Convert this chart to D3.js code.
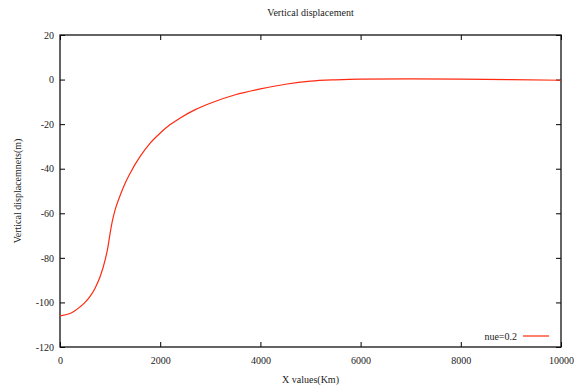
<!DOCTYPE html>
<html>
<head>
<meta charset="utf-8">
<script src="https://cdn.jsdelivr.net/npm/d3@7"></script>
<style>
  body { margin: 0; background: #fff; }
  svg text { font-family: "Liberation Serif", "Times New Roman", "DejaVu Serif", serif; font-size: 10px; }
</style>
</head>
<body>
<svg id="chart"></svg>
<script>
// distance along profile (Km) and vertical displacement (m)
const xValues = [0, 200, 400, 500, 600, 700, 800, 900, 950, 1000, 1050, 1100, 1200, 1300, 1400, 1600, 1800,
                 2000, 2200, 2400, 2700, 3000, 3500, 4000, 4500, 5000, 5500, 6000, 7000, 8000, 9000, 10000];
const dispValues = [-106, -105, -102, -100, -97.3, -93.6, -88.5, -81, -76, -69, -63, -58.5, -52, -46.5, -42, -34.5, -28.5,
                    -24, -20.2, -17.2, -13.5, -10.6, -6.8, -4.2, -2.1, -0.7, -0.1, 0.2, 0.3, 0.2, 0, -0.3];
const xTicks = [0, 2000, 4000, 6000, 8000, 10000];
const yTicks = [-120, -100, -80, -60, -40, -20, 0, 20];
const seriesName = "nue=0.2";

const width = 574, height = 390;
const margin = { top: 35, right: 13, bottom: 43, left: 60 };
const innerW = width - margin.left - margin.right;
const innerH = height - margin.top - margin.bottom;

const svg = d3.select("#chart").attr("width", width).attr("height", height);
const g = svg.append("g").attr("transform", `translate(${margin.left},${margin.top})`);

const x = d3.scaleLinear().domain([0, 10000]).range([0, innerW]);
const y = d3.scaleLinear().domain([-120, 20]).range([innerH, 0]);

const tick = 5;

// bottom axis with labels, top axis ticks only
const xAxis = g.append("g").attr("transform", `translate(0,${innerH})`)
    .call(d3.axisBottom(x).tickValues(xTicks).tickSize(-tick).tickPadding(10).tickFormat(d => String(d)));
const xTop = g.append("g")
    .call(d3.axisTop(x).tickValues(xTicks).tickSize(-tick).tickFormat(""));
const yAxis = g.append("g")
    .call(d3.axisLeft(y).tickValues(yTicks).tickSize(-tick).tickPadding(6).tickFormat(d => String(d)));
const yRight = g.append("g").attr("transform", `translate(${innerW},0)`)
    .call(d3.axisRight(y).tickValues(yTicks).tickSize(-tick).tickFormat(""));

[xAxis, xTop, yAxis, yRight].forEach(a => {
    a.attr("font-family", null).attr("font-size", null);
    a.select(".domain").remove();
    a.selectAll("line").attr("stroke", "#000").attr("stroke-width", 1);
    a.selectAll("text").style("fill", "#222");
});

// frame
g.append("rect")
    .attr("width", innerW).attr("height", innerH)
    .attr("fill", "none").attr("stroke", "#111").attr("stroke-width", 1.3);

// curve
const data = xValues.map((d, i) => ({ x: d, v: dispValues[i] }));
const line = d3.line().x(d => x(d.x)).y(d => y(d.v)).curve(d3.curveMonotoneX);
g.append("path").datum(data)
    .attr("d", line)
    .attr("fill", "none").attr("stroke", "#ff2a10").attr("stroke-width", 1.2);

// legend
const lgY = innerH - 11;
g.append("text").attr("x", innerW - 44).attr("y", lgY).attr("dy", "0.35em")
    .attr("text-anchor", "end").style("fill", "#222").text(seriesName);
g.append("line").attr("x1", innerW - 38).attr("x2", innerW - 12)
    .attr("y1", lgY).attr("y2", lgY)
    .attr("stroke", "#ff2a10").attr("stroke-width", 1.2);

// titles
svg.append("text").attr("x", margin.left + innerW / 2).attr("y", 16)
    .attr("text-anchor", "middle").style("fill", "#222").text("Vertical displacement");
svg.append("text").attr("x", margin.left + innerW / 2).attr("y", 383)
    .attr("text-anchor", "middle").style("fill", "#222").text("X values(Km)");
svg.append("text").attr("transform", `translate(21,${margin.top + innerH / 2}) rotate(-90)`)
    .attr("text-anchor", "middle").style("fill", "#222").text("Vertical displacemnets(m)");
</script>
</body>
</html>
